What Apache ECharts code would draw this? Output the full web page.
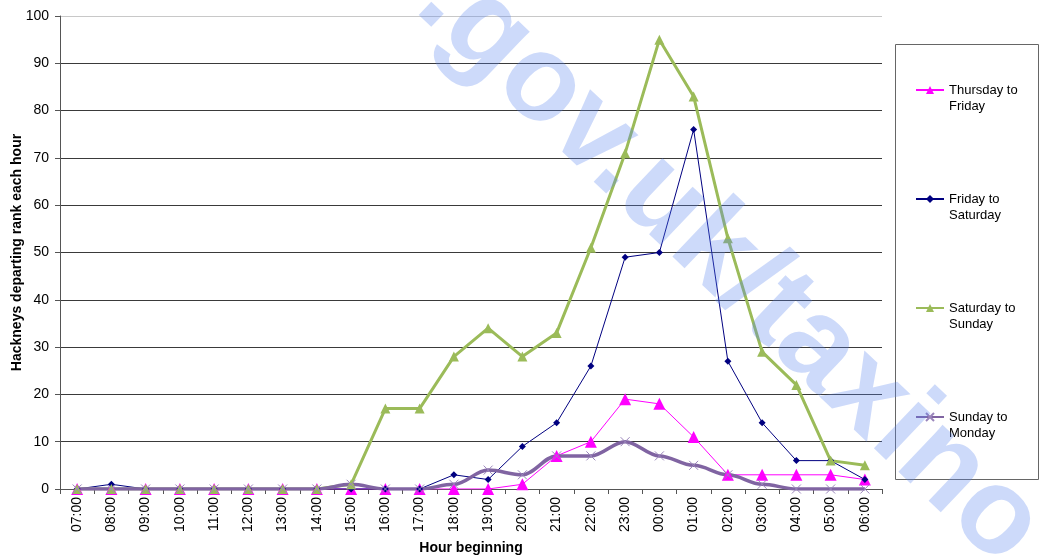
<!DOCTYPE html>
<html>
<head>
<meta charset="utf-8">
<script src="https://cdn.jsdelivr.net/npm/echarts@6/dist/echarts.min.js"></script>
<style>html,body{margin:0;padding:0;background:#fff}#c{width:1041px;height:558px}</style>
</head>
<body>
<div id="c"></div>
<script>
var hours = ['07:00','08:00','09:00','10:00','11:00','12:00','13:00','14:00','15:00','16:00','17:00','18:00','19:00','20:00','21:00','22:00','23:00','00:00','01:00','02:00','03:00','04:00','05:00','06:00'];
var thursdayToFriday = [0,0,0,0,0,0,0,0,0,0,0,0,0,1,7,10,19,18,11,3,3,3,3,2];
var fridayToSaturday = [0,1,0,0,0,0,0,0,0,0,0,3,2,9,14,26,49,50,76,27,14,6,6,2];
var saturdayToSunday = [0,0,0,0,0,0,0,0,1,17,17,28,34,28,33,51,71,95,83,53,29,22,6,5];
var sundayToMonday = [0,0,0,0,0,0,0,0,1,0,0,1,4,3,7,7,10,7,5,3,1,0,0,0];
var seriesNames = ['Thursday to\nFriday','Friday to\nSaturday','Saturday to\nSunday','Sunday to\nMonday'];
var yTicks = [0,10,20,30,40,50,60,70,80,90,100];

var font = '"Liberation Sans", Arial, sans-serif';
var chart = echarts.init(document.getElementById('c'), null, {renderer:'canvas'});
var splitColors = yTicks.map(function(v){ return v === 100 ? '#c8c8c8' : '#3a3a3a'; });
var xPath = 'path://M0,0L10,10M10,0L0,10';

chart.setOption({
  animation: false,
  backgroundColor: '#fff',
  textStyle: {fontFamily: font},
  grid: {left: 60, right: 159, top: 16, bottom: 69, containLabel: false, outerBoundsMode: 'none'},
  legend: {
    orient: 'vertical', left: 915, top: 66, padding: 0,
    itemWidth: 28, itemHeight: 10, itemGap: 61,
    data: seriesNames,
    formatter: function (name) { return ' \n' + name; },
    textStyle: {fontSize: 13, color: '#000', lineHeight: 16, fontFamily: font}
  },
  xAxis: {
    type: 'category', data: hours, boundaryGap: true,
    name: 'Hour beginning', nameLocation: 'middle', nameGap: 52, nameMoveOverlap: false,
    nameTextStyle: {fontSize: 14, fontWeight: 'bold', color: '#000', fontFamily: font},
    axisLine: {lineStyle: {color: '#555', width: 1}},
    axisTick: {show: true, length: 5, lineStyle: {color: '#555'}},
    axisLabel: {rotate: 90, interval: 0, margin: 8, fontSize: 14, color: '#000', fontFamily: font},
    splitLine: {show: false}
  },
  yAxis: {
    type: 'value', min: 0, max: 100, interval: 10,
    name: 'Hackneys departing rank each hour', nameLocation: 'middle', nameGap: 36, nameMoveOverlap: false,
    nameTextStyle: {fontSize: 14, fontWeight: 'bold', color: '#000', fontFamily: font},
    axisLine: {show: true, lineStyle: {color: '#555', width: 1}},
    axisTick: {show: true, length: 5, lineStyle: {color: '#555'}},
    axisLabel: {margin: 11, fontSize: 14, color: '#000', fontFamily: font},
    splitLine: {show: true, lineStyle: {color: splitColors, width: 1}}
  },
  series: [
    {name: seriesNames[0], type: 'line', data: thursdayToFriday,
     symbol: 'triangle', symbolSize: 12, color: '#FF00FF',
     lineStyle: {color: '#FF00FF', width: 1}, itemStyle: {color: '#FF00FF'}},
    {name: seriesNames[1], type: 'line', data: fridayToSaturday,
     symbol: 'diamond', symbolSize: 7, color: '#000080',
     lineStyle: {color: '#000080', width: 1}, itemStyle: {color: '#000080'}},
    {name: seriesNames[2], type: 'line', data: saturdayToSunday,
     symbol: 'triangle', symbolSize: 10, color: '#9BBB59',
     lineStyle: {color: '#9BBB59', width: 3}, itemStyle: {color: '#9BBB59'}},
    {name: seriesNames[3], type: 'line', data: sundayToMonday,
     symbol: xPath, symbolSize: 9, smooth: 0.35, smoothMonotone: 'x', color: '#8064A2',
     lineStyle: {color: '#8064A2', width: 3.5},
     itemStyle: {color: 'rgba(0,0,0,0)', borderColor: '#9a85bb', borderWidth: 1}}
  ],
  graphic: [
    {type: 'rect', shape: {x: 895.5, y: 44.5, width: 143, height: 435},
     style: {fill: 'none', stroke: '#666', lineWidth: 1}, z: 1},
    {type: 'text', x: 436, y: -15, rotation: -43.6 * Math.PI / 180, z: 100,
     style: {text: '.gov.uk/taxino', font: 'bold 122px "Liberation Sans", Arial, sans-serif',
             fill: 'rgba(88,132,238,0.3)', textAlign: 'left', textVerticalAlign: 'middle'}}
  ]
});
</script>
</body>
</html>
